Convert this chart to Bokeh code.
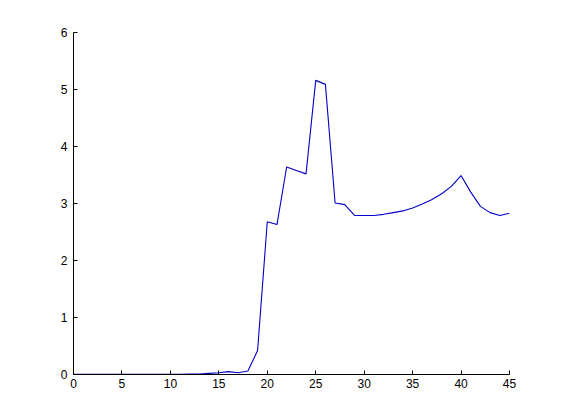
from bokeh.plotting import figure
from bokeh.models import Range1d, FixedTicker
from bokeh.embed import file_html
from bokeh.resources import INLINE

x_values = list(range(0, 46))
y_values = [
    0.005, 0.005, 0.005, 0.005, 0.005, 0.005, 0.005, 0.005, 0.005, 0.005,
    0.005, 0.005, 0.008, 0.01, 0.02, 0.03, 0.05, 0.03, 0.06, 0.42,
    2.68, 2.63, 3.64, 3.58, 3.52, 5.16, 5.09, 3.01, 2.98, 2.79,
    2.79, 2.79, 2.81, 2.84, 2.87, 2.92, 2.99, 3.07, 3.17, 3.30,
    3.49, 3.20, 2.95, 2.84, 2.79, 2.83,
]
x_ticks = [0, 5, 10, 15, 20, 25, 30, 35, 40, 45]
y_ticks = [0, 1, 2, 3, 4, 5, 6]

p = figure(width=553, height=412, output_backend="svg", toolbar_location=None,
           x_range=Range1d(0, 45), y_range=Range1d(0, 6),
           min_border_left=73, min_border_right=44, min_border_top=32, min_border_bottom=38)
p.outline_line_color = None
p.xgrid.visible = False
p.ygrid.visible = False
p.background_fill_color = "white"
p.border_fill_color = "white"

p.line(x_values, y_values, line_color="#0000c8", line_width=1.1)

for ax, ticks in ((p.xaxis, x_ticks), (p.yaxis, y_ticks)):
    ax.ticker = FixedTicker(ticks=ticks)
    ax.major_tick_in = 4
    ax.major_tick_out = 0
    ax.minor_tick_line_color = None
    ax.axis_line_color = "black"
    ax.major_tick_line_color = "black"
    ax.major_label_text_font = "Liberation Sans"
    ax.major_label_text_font_size = "12px"
    ax.major_label_text_color = "black"
p.xaxis.major_label_standoff = 4
p.yaxis.major_label_standoff = 6

open("out.html", "w").write(file_html(p, INLINE))
